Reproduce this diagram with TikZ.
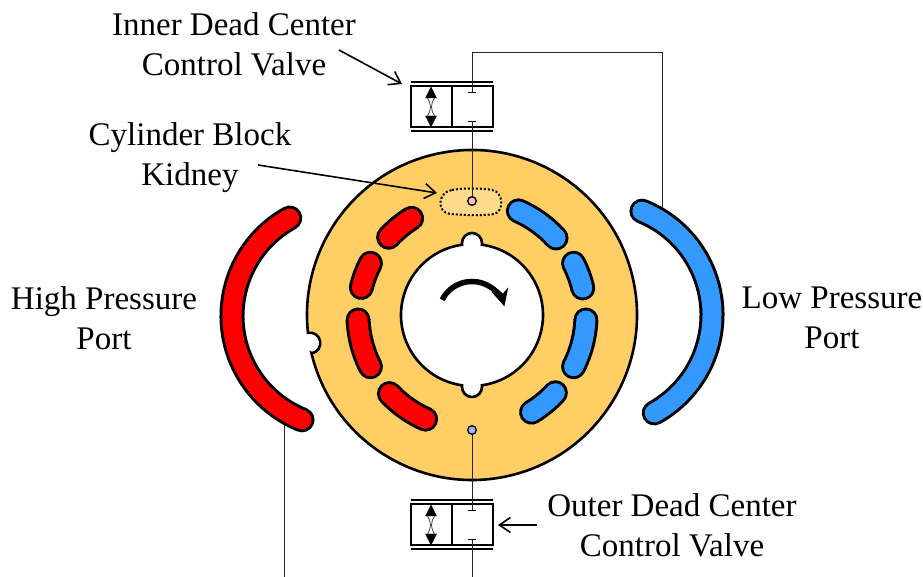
\documentclass[tikz,border=0pt]{standalone}
\usepackage{fontspec}
\setmainfont{Liberation Serif}
\usetikzlibrary{arrows.meta,calc}
\definecolor{blockorange}{RGB}{255,206,100}
\definecolor{kidneyfill}{RGB}{255,219,140}
\definecolor{portblue}{RGB}{51,153,255}
\definecolor{pinkdot}{RGB}{255,190,190}
\definecolor{bluedot}{RGB}{175,175,255}
\def\slotarc[#1](#2)(#3:#4:#5){%
	\draw[line width=25pt, line cap=round] ($(#2)+(#3:#5)$) arc (#3:#4:#5);
	\draw[line width=19pt, line cap=round, color=#1] ($(#2)+(#3:#5)$) arc (#3:#4:#5);}
\def\valve(#1,#2){%
	\draw[line width=2pt, fill=white] (#1-61, #2-20.5) rectangle (#1+21, #2+20.5);
	\draw[line width=2pt] (#1-20, #2-20.5) -- (#1-20, #2+20.5);
	\draw[line width=2pt] (#1-61, #2+24.5) -- (#1+21, #2+24.5);
	\draw[line width=2pt] (#1-61, #2-24.5) -- (#1+21, #2-24.5);
	\draw[fill=black] (#1-41, #2+20) -- (#1-35.5, #2+9) -- (#1-46.5, #2+9) -- cycle;
	\draw[fill=black] (#1-41, #2-20) -- (#1-35.5, #2-9) -- (#1-46.5, #2-9) -- cycle;
	\draw[line width=0.8pt, color=black!75] (#1-37.5, #2+9) .. controls (#1-41.5, #2+2) and (#1-41.5, #2-2) .. (#1-37.5, #2-9);
	\draw[line width=0.8pt, color=black!75] (#1-44.5, #2+9) .. controls (#1-40.5, #2+2) and (#1-40.5, #2-2) .. (#1-44.5, #2-9);
	\draw[line width=1.6pt] (#1-4, #2+14.5) -- (#1+4, #2+14.5);
	\draw[line width=1.6pt] (#1-4, #2-14.5) -- (#1+4, #2-14.5);}
\tikzset{
	label text/.style={font=\fontsize{33}{40}\selectfont, align=center, inner sep=0pt},
	wire/.style={line width=0.9pt, color=black!85},
	leader/.style={line width=1.6pt, -{Straight Barb[length=11pt,width=15pt,line width=1.6pt]}},
}

\begin{document}
\begin{tikzpicture}[x=1pt, y=1pt]
	\useasboundingbox (-472, -262) rectangle (451, 315);
	
	% cylinder block
	\draw[line width=2.6pt, fill=blockorange] (193.3:165) arc (193.3:546.2:165) arc (101:-79:10.4) -- cycle;
	
	% shaft bore
	\draw[line width=2.6pt, fill=white] (81.9:71) arc (81.9:-81.9:71) -- (10, -72) arc (0:-180:10) -- (-10, -70.3) arc (261.9:98.1:71) -- (-10, 72) arc (180:0:10) -- cycle;
	\draw[line width=5.5pt, -{Stealth[length=17pt,width=17pt]}] (153:33.5) arc (153:15:33.5);
	
	% kidneys
	\slotarc[red](0, 0)(137:122:114);
	\slotarc[red](0, 0)(166:153:114);
	\slotarc[red](0, 0)(182.5:207:114);
	\slotarc[red](0, 0)(223.6:246:114);
	\slotarc[portblue](0, 0)(66:42.5:114);
	\slotarc[portblue](0, 0)(27:13.7:114);
	\slotarc[portblue](0, 0)(-2.5:-27:114);
	\slotarc[portblue](0, 0)(-43:-58.5:114);
	
	% ports
	\slotarc[red](-128, -1)(119:248:112);
	\slotarc[portblue](128, 0)(68:-61:112);
	
	% kidney on top dead center
	\draw[line width=2pt, dash pattern=on 2pt off 2pt, fill=kidneyfill] (-20, 125) .. controls (-10, 127) and (10, 127) .. (20, 125) .. controls (32, 123) and (32, 103) .. (22, 101) .. controls (10, 99) and (-10, 100) .. (-22, 101) .. controls (-36, 103) and (-34, 123) .. (-20, 125) -- cycle;
	
	% valves
	\valve(0,208)
	\valve(0,-210)
	
	% wires
	\coordinate (topdot) at (0, 114);
	\coordinate (botdot) at (0, -115);
	\coordinate (topcorner) at (0, 263);
	\coordinate (portcorner) at (190, 263);
	\coordinate (portend) at (190, 107);
	\coordinate (redport) at (-188, -110);
	\coordinate (redend) at (-188, -262);
	\coordinate (botend) at (0, -262);
	\draw[wire] (0, 222.5) -- (topcorner) -- (portcorner) -- (portend);
	\draw[wire] (0, 193.5) -- (topdot);
	\draw[wire] (botdot) -- (0, -195.5);
	\draw[wire] (0, -224.5) -- (botend);
	\draw[wire] (redport) -- (redend);
	\draw[line width=1.3pt, fill=pinkdot] (topdot) circle (4.3);
	\draw[line width=1.3pt, fill=bluedot] (botdot) circle (4.3);
	
	% labels
	\node[label text] (innerlabel) at (-238, 271) {Inner Dead Center\\Control Valve};
	\node[label text] (kidneylabel) at (-282, 157) {Cylinder Block\\Kidney};
	\node[label text] (highlabel) at (-368, -3) {High Pressure\\Port};
	\node[label text] (lowlabel) at (360, -3) {Low Pressure\\Port};
	\node[label text] (outerlabel) at (200, -210) {Outer Dead Center\\Control Valve};
	
	\coordinate (innertip) at (-70, 231);
	\coordinate (kidneytip) at (-35, 122);
	\coordinate (outertip) at (26, -210);
	\draw[leader] (-133, 265) -- (innertip);
	\draw[leader] (-214, 150) -- (kidneytip);
	\draw[leader] (outerlabel.west |- outertip) ++(-10, 0) -- (outertip);
\end{tikzpicture}
\end{document}
